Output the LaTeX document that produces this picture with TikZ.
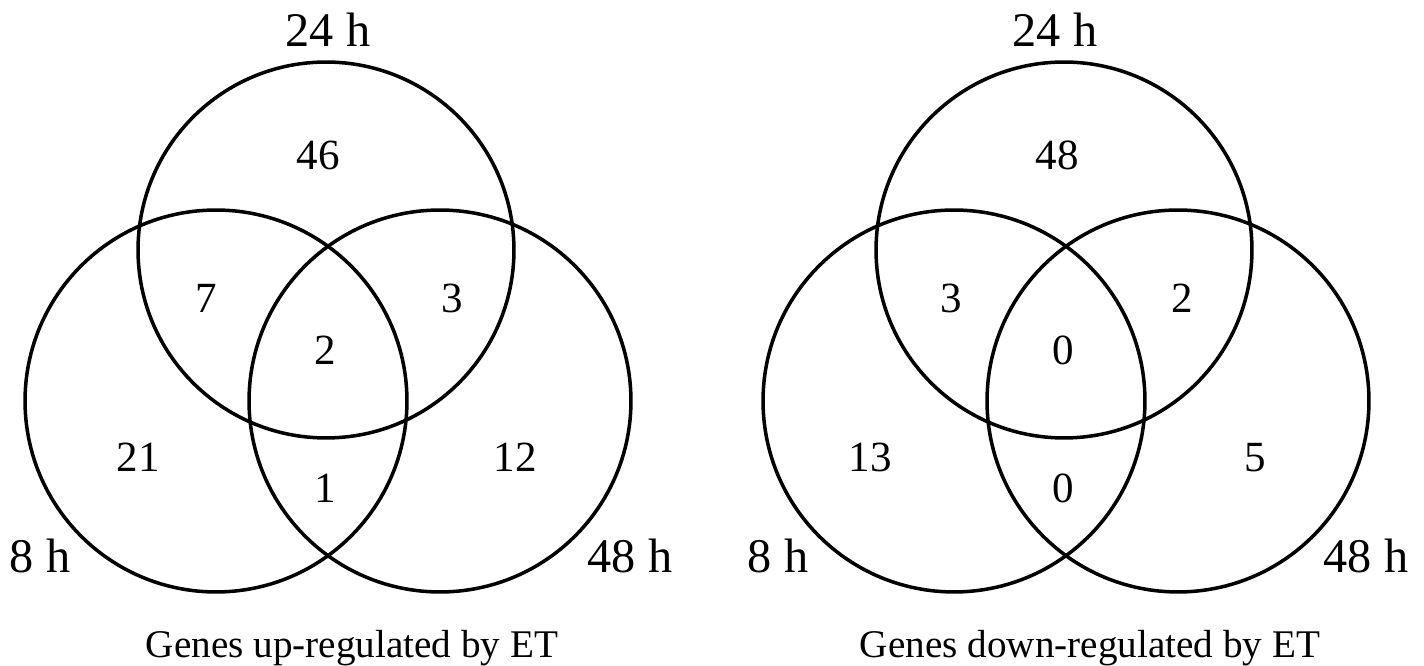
\documentclass[tikz,border=0pt]{standalone}
\usepackage{fontspec}
\setmainfont{Liberation Serif}

\begin{document}
\begin{tikzpicture}[
    x=0.02cm, y=0.02cm,
    set/.style={draw, circle, line width=2pt, inner sep=0pt, minimum size=#1},
    lbl/.style={anchor=base, inner sep=0pt, font=\fontsize{27.5}{30}\selectfont},
    num/.style={anchor=base, inner sep=0pt, font=\fontsize{24.5}{28}\selectfont},
    captext/.style={anchor=base, inner sep=0pt, font=\fontsize{22.3}{26}\selectfont}
]
\useasboundingbox (0,0) rectangle (1424,666);

% Up-regulated: three sets
\node[set=7.52cm] (u24) at (326,416) {};
\node[set=7.64cm] (u8)  at (216,265) {};
\node[set=7.64cm] (u48) at (440,265) {};

% Up-regulated: set names
\node[lbl] (u24l) at (328,619) {24 h};
\node[lbl] (u8l)  at (40,93)   {8 h};
\node[lbl] (u48l) at (630,93)  {48 h};

% Up-regulated: counts
\node[num] (uA)   at (318,496) {46};
\node[num] (uAB)  at (206,353) {7};
\node[num] (uAC)  at (452,353) {3};
\node[num] (uABC) at (325,301) {2};
\node[num] (uB)   at (138,194) {21};
\node[num] (uBC)  at (325,163) {1};
\node[num] (uC)   at (515,194) {12};

\node[captext] (ucap) at (352,8) {Genes up-regulated by ET};

% Down-regulated: three sets
\node[set=7.52cm] (d24) at (1064,416) {};
\node[set=7.64cm] (d8)  at (954,265)  {};
\node[set=7.64cm] (d48) at (1178,265) {};

% Down-regulated: set names
\node[lbl] (d24l) at (1055,619) {24 h};
\node[lbl] (d8l)  at (778,93)   {8 h};
\node[lbl] (d48l) at (1366,93)  {48 h};

% Down-regulated: counts
\node[num] (dA)   at (1057,496) {48};
\node[num] (dAB)  at (951,353)  {3};
\node[num] (dAC)  at (1182,353) {2};
\node[num] (dABC) at (1063,301) {0};
\node[num] (dB)   at (870,194)  {13};
\node[num] (dBC)  at (1063,163) {0};
\node[num] (dC)   at (1255,194) {5};

\node[captext] (dcap) at (1090,8) {Genes down-regulated by ET};
\end{tikzpicture}
\end{document}
